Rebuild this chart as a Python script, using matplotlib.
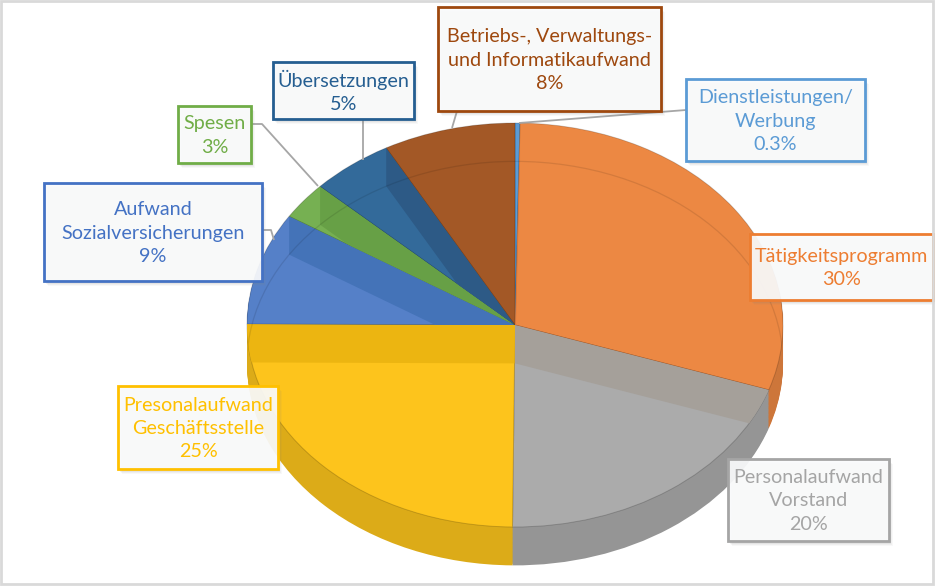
import numpy as np
import matplotlib
matplotlib.use("Agg")
import matplotlib.pyplot as plt
from matplotlib.patches import Rectangle, Circle
from matplotlib.colors import to_rgb

# === Daten ===
labels = ["Dienstleistungen/\nWerbung", "Tätigkeitsprogramm", "Personalaufwand\nVorstand",
          "Presonalaufwand\nGeschäftsstelle", "Aufwand\nSozialversicherungen", "Spesen",
          "Übersetzungen", "Betriebs-, Verwaltungs-\nund Informatikaufwand"]
shares = [0.3, 30, 20, 25, 9, 3, 5, 8]
pct_labels = ["0.3%", "30%", "20%", "25%", "9%", "3%", "5%", "8%"]

# === Stil ===
colors = ["#5B9BD5", "#EC8843", "#ABABAB", "#FDC41C", "#5580C8", "#76B052", "#336A9A", "#A35826"]
wall_colors = ["#4f8bc2", "#d9783a", "#a5a09a", "#ecb511", "#4473b8", "#67a046", "#2d5a86", "#944e20"]
text_colors = ["#5B9BD5", "#ED7D31", "#A5A5A5", "#FFC000", "#4472C4", "#70AD47", "#255E91", "#9E480E"]
FONT = "Lato"
FS = 14.2

W, H = 935, 586
CX, CY = 515, 325      # Mitte der Oberseite (Pixel)
RX, RY = 268, 202      # Halbachsen (Pixel)
DEPTH = 0.19           # Dicke in Einheiten von RY

# Box-Positionen (x0, y0, x1, y1) in Pixeln
boxes = [(686, 79, 865, 161), (750, 234, 933, 300), (728, 459, 889, 541),
         (118, 386, 278, 469), (44, 183, 262, 281), (178, 106, 251, 163),
         (273, 62, 414, 119), (438, 7, 661, 111)]
# Führungslinien: Punkte von der Box bis zum Kuchenrand (None = keine Linie)
leaders = [[(686, 110), (519, 123)], None, None, None,
           [(262, 230), (271, 230), (274, 240)],
           [(251, 124), (262, 124), (318, 186)],
           [(363, 119), (363, 160)],
           [(457, 111), (452, 128)]]


def darker(c, f):
    r, g, b = to_rgb(c)
    return (r * f, g * f, b * f)


fig = plt.figure(figsize=(W / 100, H / 100), dpi=100)
ax = fig.add_axes([0, 0, 1, 1])

# Seitenwand: gestapelte Kuchen
side_colors = [darker(c, 0.87) for c in colors]
for off in np.linspace(-DEPTH, -0.005, 30):
    ax.pie(shares, colors=side_colors, startangle=90, counterclock=False,
           center=(0, off), radius=1, frame=True,
           wedgeprops=dict(linewidth=0))

# Oberseite
wedges, _ = ax.pie(shares, colors=colors, startangle=90, counterclock=False,
                   center=(0, 0), radius=1, frame=True,
                   wedgeprops=dict(linewidth=0.7, edgecolor=(0, 0, 0, 0.18)))

# durchscheinende Innenwände entlang beider Kanten jedes Stücks
total = float(sum(shares))
start = 90.0
for w, s, wc in zip(wedges, shares, wall_colors):
    end = start - s / total * 360
    for a in (start, end):
        th = np.deg2rad(a)
        px = [0, np.cos(th), np.cos(th), 0]
        py = [0, np.sin(th), np.sin(th) - DEPTH, -DEPTH]
        poly = ax.fill(px, py, color=wc, linewidth=0)[0]
        poly.set_clip_path(w)
    start = end

# Umriss der Unterseite, durchscheinend
top_clip = Circle((0, 0), 1, transform=ax.transData, visible=False)
ax.add_patch(top_clip)
ring = Circle((0, -DEPTH), 1, fill=False, edgecolor=(0, 0, 0, 0.10), linewidth=0.9)
ax.add_patch(ring)
ring.set_clip_path(top_clip)

ax.set_aspect("auto")
ax.set_xlim(-CX / RX, (W - CX) / RX)
ax.set_ylim(-(H - CY) / RY, CY / RY)
ax.axis("off")

# === Beschriftungen (Pixel-Koordinaten) ===
ov = fig.add_axes([0, 0, 1, 1], facecolor="none")
ov.set_xlim(0, W)
ov.set_ylim(H, 0)
ov.axis("off")

for lab, pct, (x0, y0, x1, y1), tc, path in zip(labels, pct_labels, boxes,
                                                text_colors, leaders):
    if path is not None:
        ov.plot([p[0] for p in path], [p[1] for p in path], color="#a6a6a6",
                linewidth=1.3, solid_capstyle="butt", zorder=2)
    # Schatten
    for i, a in enumerate([0.10, 0.07, 0.05]):
        ov.add_patch(Rectangle((x0 + 2 + i, y0 + 3 + i), x1 - x0, y1 - y0,
                               facecolor="#808080", edgecolor="none", alpha=a, zorder=3))
    ov.add_patch(Rectangle((x0, y0), x1 - x0, y1 - y0, facecolor="#fafbfc",
                           edgecolor="none", alpha=0.92, zorder=4))
    ov.add_patch(Rectangle((x0, y0), x1 - x0, y1 - y0, facecolor="none",
                           edgecolor=tc, linewidth=2, zorder=5))
    ov.text((x0 + x1) / 2, (y0 + y1) / 2 + 1, lab + "\n" + pct, ha="center", va="center",
            color=tc, fontsize=FS, family=FONT, linespacing=1.45, zorder=6)

# Rahmen
ov.add_patch(Rectangle((1, 1), W - 3, H - 3, facecolor="none", edgecolor="#d9d9d9",
                       linewidth=2, zorder=7))

fig.savefig("out.png", dpi=100)
